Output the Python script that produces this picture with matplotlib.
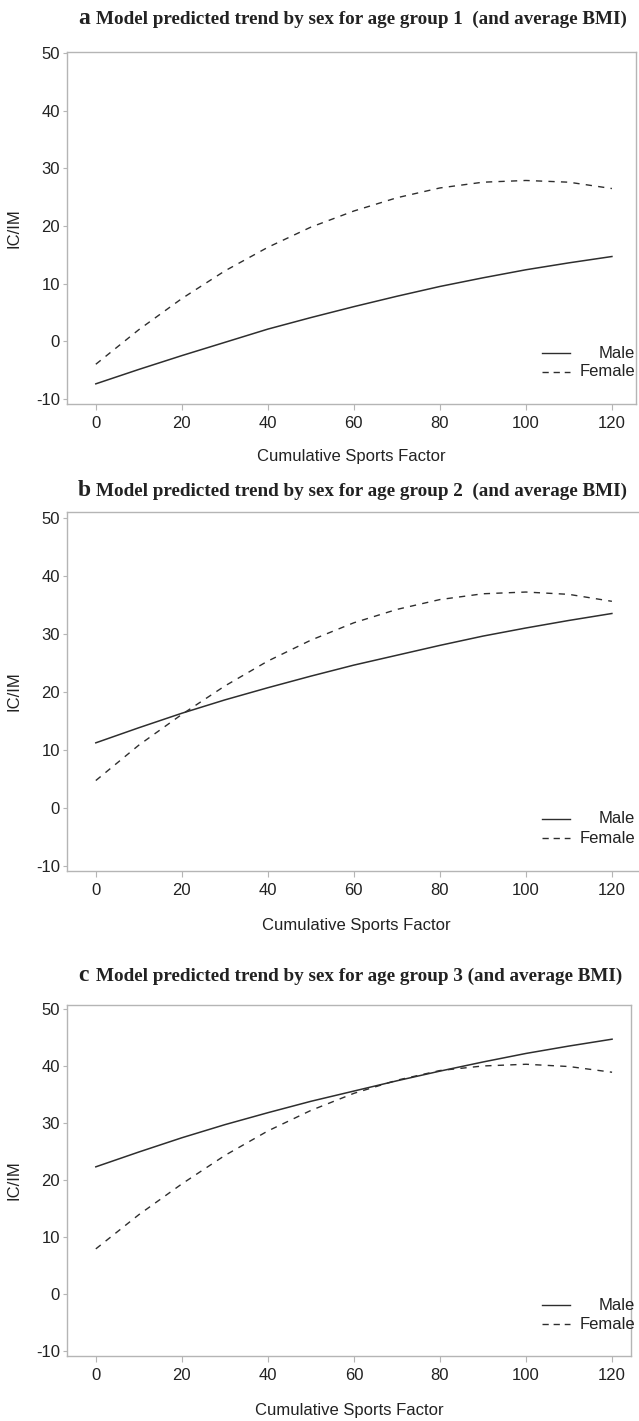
import numpy as np
import matplotlib
matplotlib.use("Agg")
import matplotlib.pyplot as plt
from matplotlib.lines import Line2D

plt.rcParams['font.family'] = ['Liberation Sans', 'DejaVu Sans']
plt.rcParams['axes.unicode_minus'] = False

# data (IC/IM vs cumulative sports factor)
x = [0, 10, 20, 30, 40, 50, 60, 70, 80, 90, 100, 110, 120]

male_1 = [-7.4, -4.9, -2.5, -0.2, 2.1, 4.1, 6.0, 7.8, 9.5, 11.0, 12.4, 13.6, 14.7]
female_1 = [-4.0, 2.0, 7.4, 12.2, 16.3, 19.8, 22.6, 24.9, 26.6, 27.6, 27.9, 27.6, 26.5]

male_2 = [11.2, 13.8, 16.3, 18.6, 20.7, 22.7, 24.6, 26.3, 28.0, 29.6, 31.0, 32.3, 33.5]
female_2 = [4.7, 10.8, 16.1, 21.0, 25.3, 28.9, 31.9, 34.2, 35.9, 36.9, 37.2, 36.8, 35.6]

male_3 = [22.3, 24.9, 27.4, 29.7, 31.8, 33.8, 35.6, 37.4, 39.1, 40.7, 42.2, 43.5, 44.7]
female_3 = [7.9, 13.9, 19.3, 24.3, 28.6, 32.2, 35.2, 37.5, 39.2, 40.0, 40.3, 39.9, 38.9]

letters = ['a', 'b', 'c']
titles = ['Model predicted trend by sex for age group 1  (and average BMI)',
          'Model predicted trend by sex for age group 2  (and average BMI)',
          'Model predicted trend by sex for age group 3 (and average BMI)']
legend_labels = ['Male', 'Female']
xticks = [0, 20, 40, 60, 80, 100, 120]
yticks = [-10, 0, 10, 20, 30, 40, 50]

W, H = 639, 1421
fig = plt.figure(figsize=(W / 100, H / 100), dpi=100)

# panel boxes in pixels: left, top, right, bottom
panels = [
    dict(box=(67, 52, 636, 404), ylim=(-10.9, 50.2), xlim=(-6.7, 125.6),
         title_y=24, xlab_y=457),
    dict(box=(67, 512, 645, 871), ylim=(-10.9, 51.0), xlim=(-6.7, 127.7),
         title_y=496, xlab_y=926),
    dict(box=(67, 1005, 631, 1356), ylim=(-10.9, 50.7), xlim=(-6.7, 124.4),
         title_y=981, xlab_y=1411),
]
series = [(male_1, female_1), (male_2, female_2), (male_3, female_3)]

line_col = '#2e2e2e'
spine_col = '#b5b5b5'
txt_col = '#222222'
fs = 12

for p, (m, f), let, ttl in zip(panels, series, letters, titles):
    l, t, r, b = p['box']
    ax = fig.add_axes([l / W, 1 - b / H, (r - l) / W, (b - t) / H])
    ax.plot(x, m, color=line_col, lw=1.1)
    ax.plot(x, f, color=line_col, lw=1.0, dashes=(4.5, 4.5))
    ax.set_xlim(*p['xlim'])
    ax.set_ylim(*p['ylim'])
    ax.set_xticks(xticks)
    ax.set_yticks(yticks)
    for s in ax.spines.values():
        s.set_color(spine_col)
        s.set_linewidth(1.0)
    ax.tick_params(axis='x', length=4, width=0.8, color=spine_col, pad=5,
                   labelsize=fs, labelcolor=txt_col)
    ax.tick_params(axis='y', length=3, width=0.8, color=spine_col, pad=2,
                   labelsize=fs, labelcolor=txt_col)

    ax.set_xlabel('Cumulative Sports Factor', fontsize=fs, color=txt_col)
    ax.xaxis.label.set_va('center')
    ax.xaxis.set_label_coords(0.5, (b - p['xlab_y']) / (b - t))
    ax.set_ylabel('IC/IM', fontsize=fs, color=txt_col)
    ax.yaxis.label.set_va('center')
    ax.yaxis.set_label_coords((14 - l) / (r - l), 0.5)

    # legend: handle on the left, label right-aligned (as in the reference)
    for k, (lab, ls) in enumerate(zip(legend_labels, ['-', '--'])):
        yfrac = 1 - (353 + 19 * k - 52) / (404 - 52)
        hx0 = (542 - l) / (r - l)
        hx1 = (570 - l) / (r - l)
        kw = dict(dashes=(4.5, 3.5)) if ls == '--' else {}
        ax.add_line(Line2D([hx0, hx1], [yfrac, yfrac], transform=ax.transAxes,
                           color=line_col, lw=1.0, clip_on=False, **kw))
        ax.text((635 - l) / (r - l), yfrac, lab, transform=ax.transAxes,
                ha='right', va='center', fontsize=fs, color=txt_col, clip_on=False)

    fig.text(78 / W, 1 - p['title_y'] / H, let, family='Liberation Serif',
             fontweight='bold', fontsize=17, va='baseline', ha='left', color=txt_col)
    fig.text(96 / W, 1 - p['title_y'] / H, ttl, family='Liberation Serif',
             fontweight='bold', fontsize=13.8, va='baseline', ha='left', color=txt_col)

fig.savefig('out.png', dpi=100)
